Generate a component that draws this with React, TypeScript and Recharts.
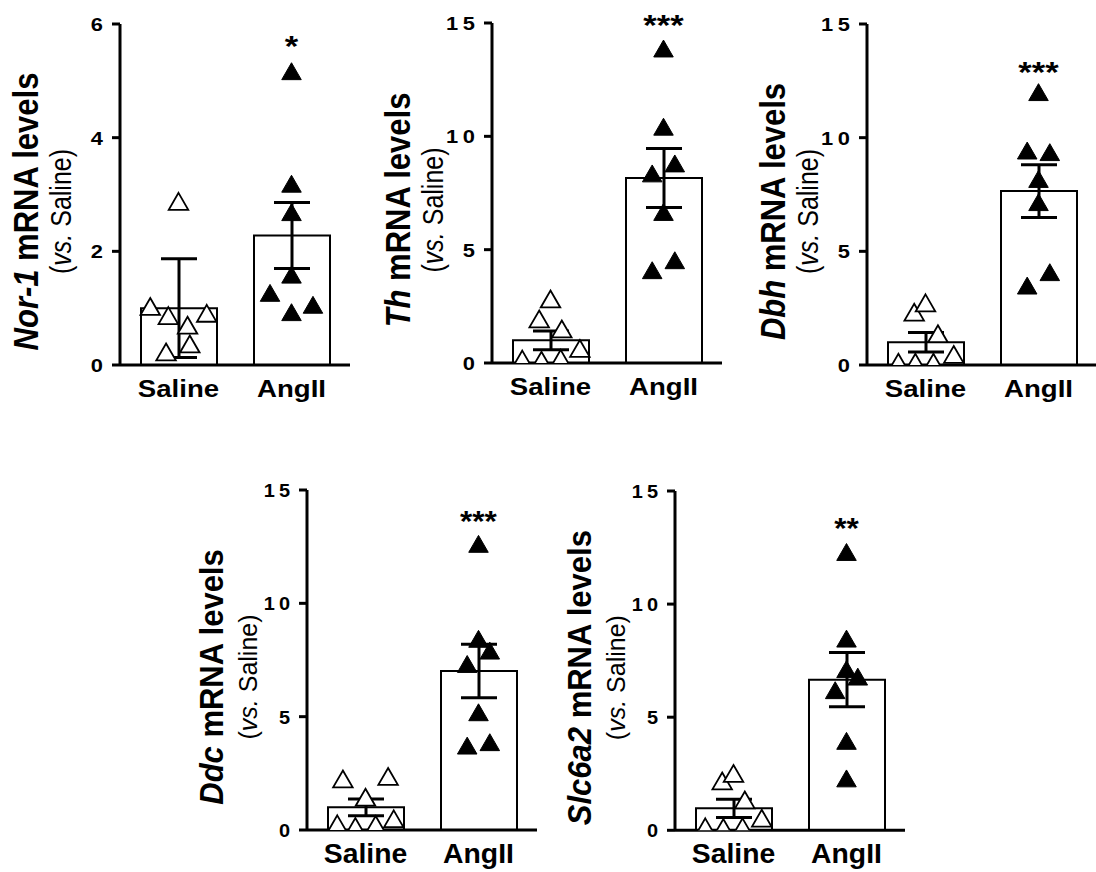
import React from "react";
import { ComposedChart, Bar, ErrorBar, Scatter, XAxis, YAxis, ReferenceDot, Symbols } from "recharts";

const FONT = "'Liberation Sans', Arial, Helvetica, sans-serif";

const groups = ["Saline", "AngII"];

// Nor-1
const nor1Mean = [1.0, 2.28];
const nor1Err = [0.87, 0.58];
const nor1Saline = [2.83, 0.98, 0.82, 0.65, 0.86, 0.32, 0.18];
const nor1SalineJitter = [0, -0.25, -0.09, 0.08, 0.25, 0.1, -0.11];
const nor1AngII = [5.12, 3.14, 2.64, 1.54, 1.22, 0.88, 1.01];
const nor1AngIIJitter = [0, 0, 0, 0, -0.19, 0, 0.19];

// Th
const thMean = [1.0, 8.16];
const thErr = [0.41, 1.3];
const thSaline = [2.7, 1.82, 1.38, 0.52, 0.05, 0.0, 0.08];
const thSalineJitter = [0, -0.1, 0.1, 0.26, -0.25, -0.08, 0.09];
const thAngII = [13.75, 10.3, 8.24, 8.68, 6.54, 3.97, 4.41];
const thAngIIJitter = [0, 0, -0.1, 0.1, 0, -0.1, 0.1];

// Dbh
const dbhMean = [1.0, 7.65];
const dbhErr = [0.43, 1.16];
const dbhSaline = [2.2, 2.61, 1.25, 0.34, 0.0, 0.0, 0.0];
const dbhSalineJitter = [-0.1, 0, 0.11, 0.25, -0.24, -0.09, 0.07];
const dbhAngII = [11.88, 9.31, 9.24, 8.06, 7.04, 3.96, 3.37];
const dbhAngIIJitter = [0, -0.1, 0.1, 0, 0, 0.1, -0.1];

// Ddc
const ddcMean = [1.0, 7.01];
const ddcErr = [0.37, 1.18];
const ddcSaline = [2.13, 2.24, 1.32, 0.15, 0.03, 0.12, 0.37];
const ddcSalineJitter = [-0.2, 0.2, 0, -0.25, -0.09, 0.09, 0.25];
const ddcAngII = [12.5, 8.31, 7.79, 7.2, 5.07, 3.6, 3.75];
const ddcAngIIJitter = [0, 0, 0.1, -0.1, 0, -0.1, 0.1];

// Slc6a2
const slcMean = [0.97, 6.66];
const slcErr = [0.4, 1.2];
const slcSaline = [2.06, 2.39, 1.22, 0.41, 0.03, 0.0, 0.03];
const slcSalineJitter = [-0.1, 0, 0.1, 0.25, -0.25, -0.09, 0.08];
const slcAngII = [12.18, 8.35, 7.0, 6.67, 6.07, 3.83, 2.17];
const slcAngIIJitter = [0, 0, 0, 0.1, -0.1, 0, 0];

const ticks6 = [0, 2, 4, 6];
const ticks15 = [0, 5, 10, 15];

const panels = [
  { gene: "Nor-1", yMax: 6, ticks: ticks6, mean: nor1Mean, err: nor1Err, saline: nor1Saline, salineJ: nor1SalineJitter, angII: nor1AngII, angIIJ: nor1AngIIJitter, sig: "*", sigAt: 5.74 },
  { gene: "Th", yMax: 15, ticks: ticks15, mean: thMean, err: thErr, saline: thSaline, salineJ: thSalineJitter, angII: thAngII, angIIJ: thAngIIJitter, sig: "***", sigAt: 15.2 },
  { gene: "Dbh", yMax: 15, ticks: ticks15, mean: dbhMean, err: dbhErr, saline: dbhSaline, salineJ: dbhSalineJitter, angII: dbhAngII, angIIJ: dbhAngIIJitter, sig: "***", sigAt: 13.2 },
  { gene: "Ddc", yMax: 15, ticks: ticks15, mean: ddcMean, err: ddcErr, saline: ddcSaline, salineJ: ddcSalineJitter, angII: ddcAngII, angIIJ: ddcAngIIJitter, sig: "***", sigAt: 13.94 },
  { gene: "Slc6a2", yMax: 15, ticks: ticks15, mean: slcMean, err: slcErr, saline: slcSaline, salineJ: slcSalineJitter, angII: slcAngII, angIIJ: slcAngIIJitter, sig: "**", sigAt: 13.66 },
];

// where each panel sits on the page; text in the source is a bit wider than tall (sx)
const layout = [
  { left: 0, top: 0, plotH: 341, sx: 1.15, xFont: 24, xDy: 32 },
  { left: 371.7, top: -0.7, plotH: 340, sx: 1.15, xFont: 24, xDy: 32 },
  { left: 746.7, top: 0, plotH: 341, sx: 1.15, xFont: 24, xDy: 32 },
  { left: 186.7, top: 466, plotH: 340, sx: 1.05, xFont: 27, xDy: 33 },
  { left: 555, top: 466.7, plotH: 339.3, sx: 1.05, xFont: 27, xDy: 33 },
];

const AXIS_W = 120;
const PLOT_W = 230;
const TOP = 24;

const YTick = (props: any) => {
  const { x, y, payload, sx } = props;
  const s = String(payload.value);
  const sp = s.length > 1 ? 4 : 0;
  return (
    <g transform={`translate(${x} ${y}) scale(${sx} 1)`}>
      <text x={sp} y={0} dy={7} textAnchor="end" fontSize={19} fontWeight={700} fontFamily={FONT} fill="#000" letterSpacing={sp}>
        {s}
      </text>
    </g>
  );
};

const XTick = (props: any) => {
  const { x, y, payload, sx, font, dy } = props;
  return (
    <g transform={`translate(${x} ${y}) scale(${sx} 1)`}>
      <text x={0} y={0} dy={dy} textAnchor="middle" fontSize={font} fontWeight={700} fontFamily={FONT} fill="#000">
        {payload.value}
      </text>
    </g>
  );
};

const hollow = (p: any) => (
  <Symbols cx={p.cx} cy={p.cy} type="triangle" size={165} fill="#fff" stroke="#000" strokeWidth={1.8} />
);
const filled = (p: any) => (
  <Symbols cx={p.cx} cy={p.cy} type="triangle" size={165} fill="#000" stroke="#000" strokeWidth={1} />
);

function Panel({ p, pos }: { p: any; pos: any }) {
  const data = groups.map((g, i) => ({ group: g, mean: p.mean[i], err: p.err[i] }));
  const sal = p.saline.map((v: number, i: number) => ({ x: 0.5 + p.salineJ[i], y: v }));
  const ang = p.angII.map((v: number, i: number) => ({ x: 1.5 + p.angIIJ[i], y: v }));
  const cy = TOP + pos.plotH / 2 + 17;
  const bx = AXIS_W - 95;
  const subx = AXIS_W - 59;

  const yLabel = () => (
    <g>
      <g transform={`translate(${bx} ${cy}) scale(${pos.sx} 1) rotate(-90)`}>
        <text x={0} y={0} textAnchor="middle" dominantBaseline="central" fontSize={31} fontWeight={700} fontFamily={FONT} fill="#000">
          <tspan fontStyle="italic">{p.gene}</tspan>
          <tspan>{" mRNA levels"}</tspan>
        </text>
      </g>
      <g transform={`translate(${subx} ${cy}) scale(${pos.sx} 1) rotate(-90)`}>
        <text x={0} y={0} textAnchor="middle" dominantBaseline="central" fontSize={25} fontFamily={FONT} fill="#000">
          <tspan>(</tspan>
          <tspan fontStyle="italic">vs.</tspan>
          <tspan>{" Saline)"}</tspan>
        </text>
      </g>
    </g>
  );

  const sigShape = (s: any) => (
    <g transform={`translate(${s.cx} ${s.cy}) scale(${pos.sx} 1)`}>
      <text x={0} y={0} dy={17} textAnchor="middle" fontSize={30} fontWeight={700} fontFamily={FONT} fill="#000">
        {p.sig}
      </text>
    </g>
  );

  return (
    <div style={{ position: "absolute", left: pos.left, top: pos.top }}>
      <ComposedChart width={AXIS_W + PLOT_W} height={TOP + pos.plotH + 50} data={data} margin={{ top: TOP, right: 0, left: 0, bottom: 0 }}>
        <XAxis
          xAxisId="cat"
          dataKey="group"
          height={50}
          padding={{ left: 2, right: 2 }}
          interval={0}
          tickLine={false}
          tickSize={0}
          tickMargin={0}
          axisLine={{ stroke: "#000", strokeWidth: 3 }}
          tick={<XTick sx={pos.sx} font={pos.xFont} dy={pos.xDy} />}
        />
        <XAxis xAxisId="num" type="number" dataKey="x" domain={[0, 2]} padding={{ left: 2, right: 2 }} hide />
        <YAxis
          width={AXIS_W}
          domain={[0, p.yMax]}
          ticks={p.ticks}
          allowDataOverflow
          tickSize={8}
          tickMargin={9}
          axisLine={{ stroke: "#000", strokeWidth: 3 }}
          tickLine={{ stroke: "#000", strokeWidth: 3 }}
          tick={<YTick sx={pos.sx} />}
          label={{ content: yLabel }}
        />
        <Bar xAxisId="cat" dataKey="mean" barSize={76} fill="#fff" stroke="#000" strokeWidth={2} isAnimationActive={false}>
          <ErrorBar dataKey="err" direction="y" width={18} stroke="#000" strokeWidth={3} isAnimationActive={false} />
        </Bar>
        <Scatter xAxisId="num" data={sal} dataKey="y" shape={hollow} isAnimationActive={false} />
        <Scatter xAxisId="num" data={ang} dataKey="y" shape={filled} isAnimationActive={false} />
        <ReferenceDot xAxisId="cat" x="AngII" y={p.sigAt} r={1} ifOverflow="visible" shape={sigShape} />
      </ComposedChart>
    </div>
  );
}

export default function App() {
  return (
    <div style={{ position: "absolute", left: 0, top: 0, width: 1096, height: 872, overflow: "hidden", background: "#fff" }}>
      {panels.map((p, i) => (
        <Panel key={p.gene} p={p} pos={layout[i]} />
      ))}
    </div>
  );
}
